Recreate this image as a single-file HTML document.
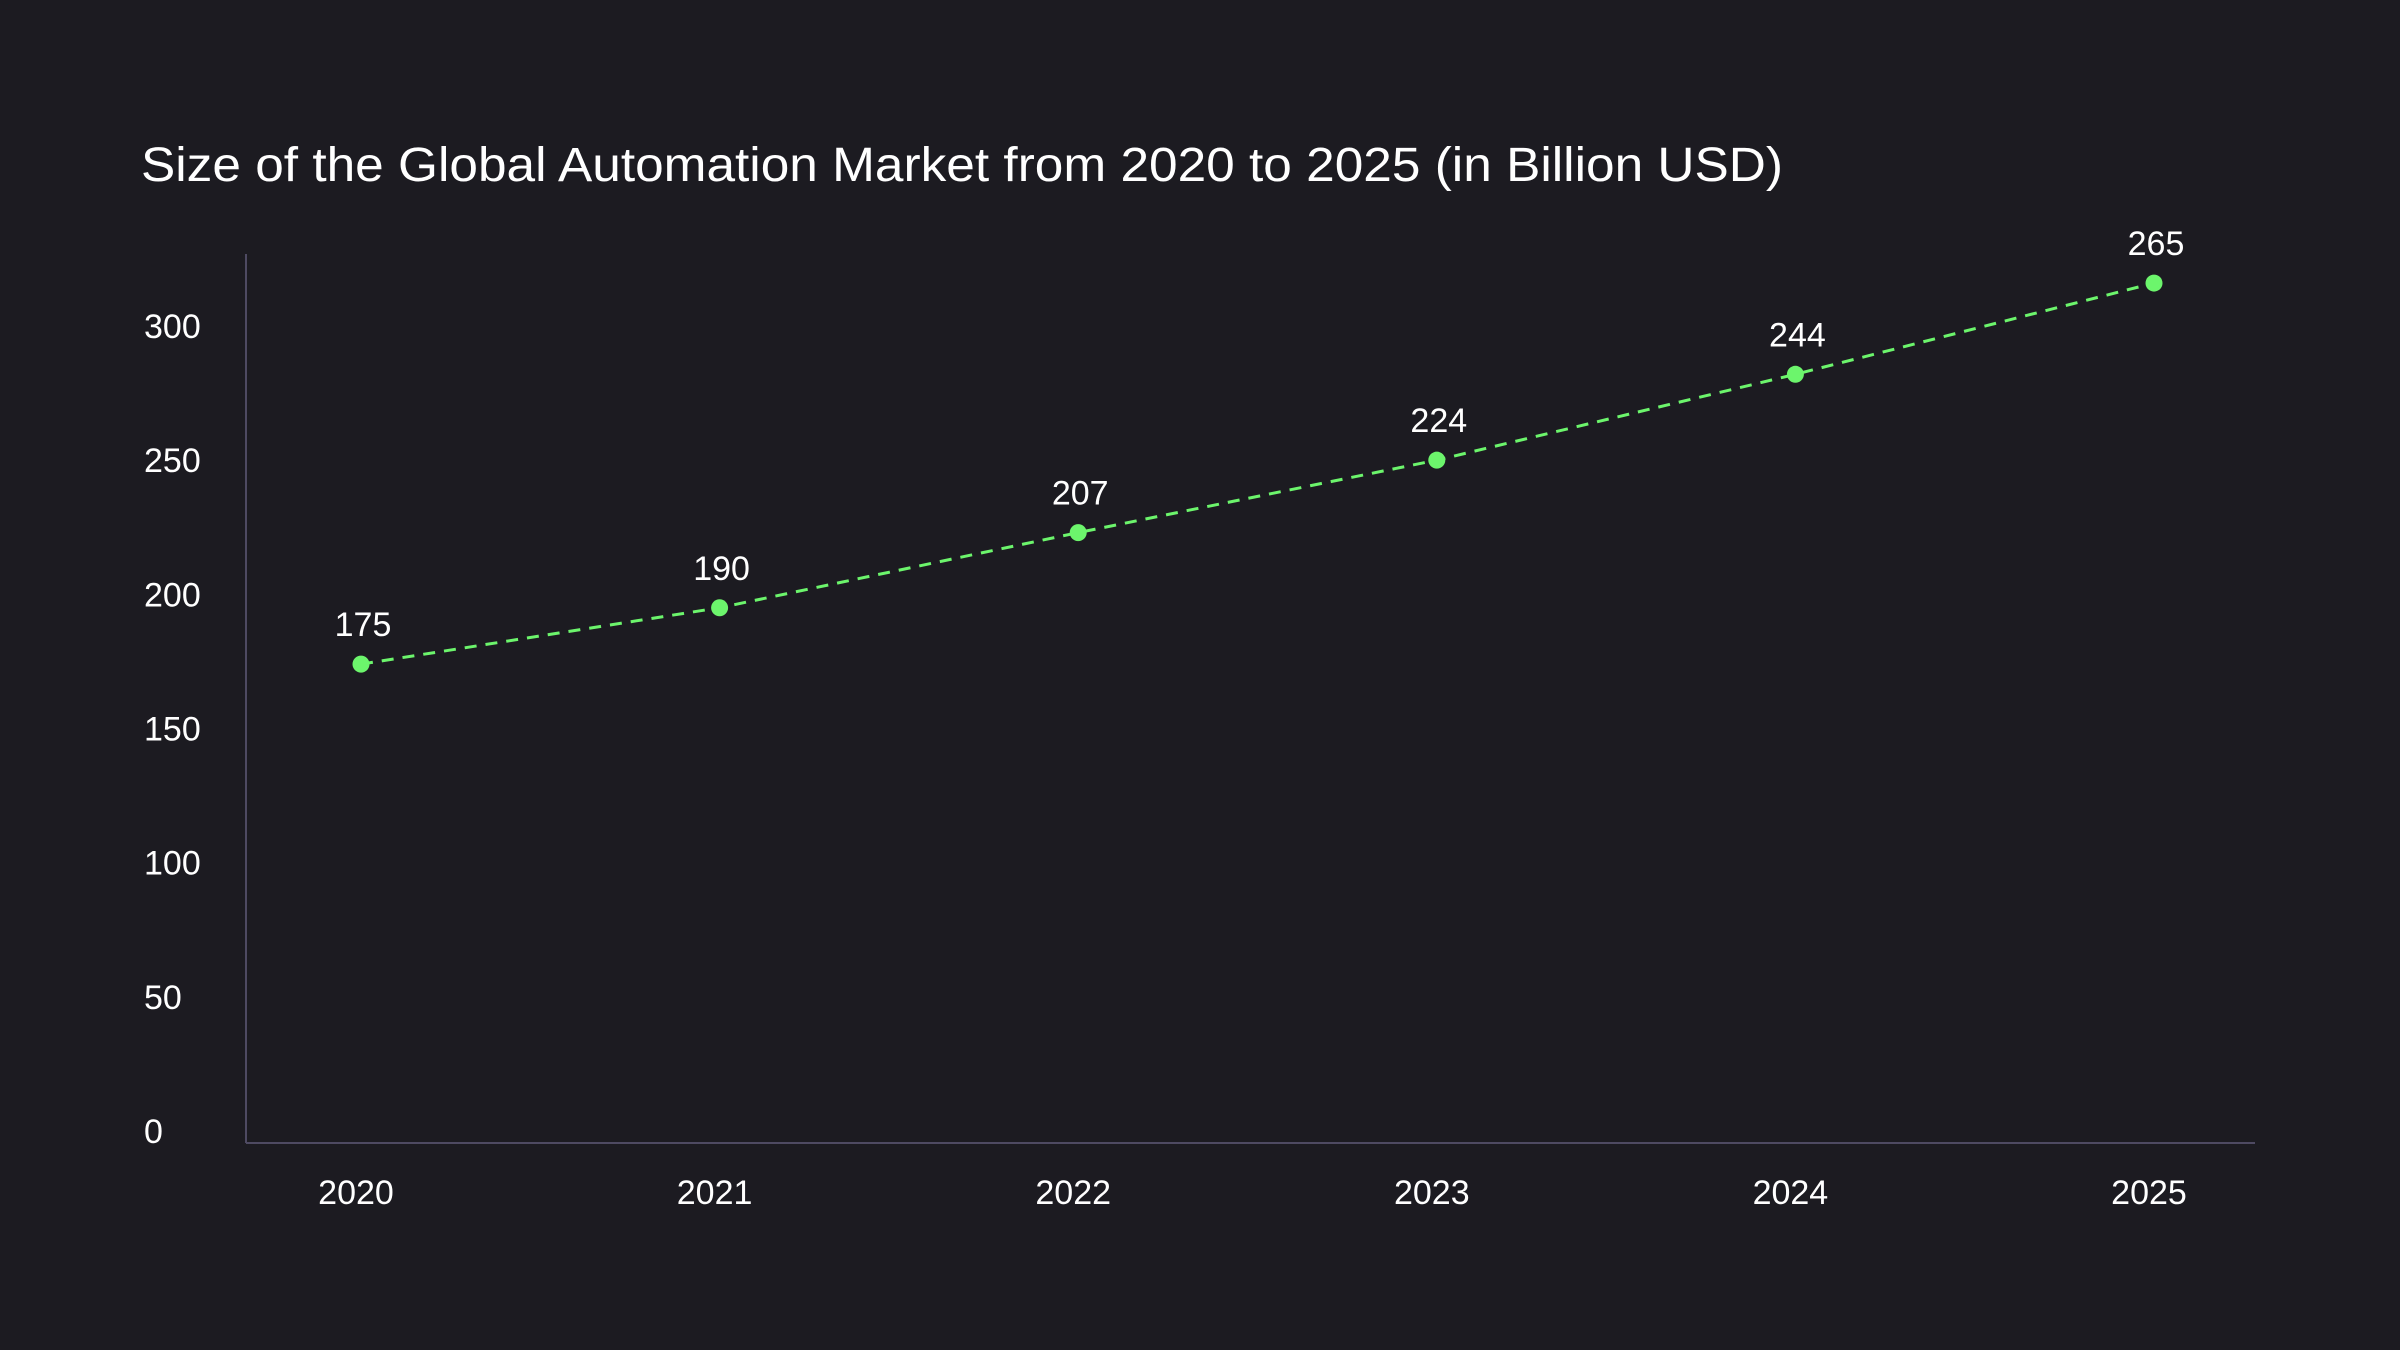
<!DOCTYPE html>
<html><head><meta charset="utf-8"><style>
html,body{margin:0;padding:0;background:#1c1b21;}
svg{display:block;font-family:"Liberation Sans",sans-serif;}
</style></head><body>
<svg id="chart" width="2400" height="1350" viewBox="0 0 2400 1350" xmlns="http://www.w3.org/2000/svg">
<rect width="2400" height="1350" fill="#1c1b21"/>
<text x="141" y="181" fill="#ffffff" font-size="48" textLength="1642" lengthAdjust="spacingAndGlyphs">Size of the Global Automation Market from 2020 to 2025 (in Billion USD)</text>
<line x1="246" y1="254" x2="246" y2="1143" stroke="#4e4a62" stroke-width="2"/>
<line x1="246" y1="1143" x2="2255" y2="1143" stroke="#4e4a62" stroke-width="2"/>
<g id="yticks"></g><g id="xticks"></g>
<path id="series-line" fill="none" stroke="#6cf56c" stroke-width="3" stroke-dasharray="12,9"/>
<g id="points"></g>
</svg>
<script>
const categories = ["2020","2021","2022","2023","2024","2025"];
const values = [174, 195, 223, 250, 282, 316];
const valueLabels = ["175","190","207","224","244","265"];
const yTicks = [0,50,100,150,200,250,300];

const NS = "http://www.w3.org/2000/svg";
function xScale(i){ return 361 + i * 358.6; }
function yScale(v){ return 1131 - v * (805 / 300); }

const yg = document.getElementById("yticks");
yTicks.forEach(t => {
  const el = document.createElementNS(NS, "text");
  
  
  el.setAttribute("x", 144);
  el.setAttribute("y", yScale(t) + 12);
  el.setAttribute("fill", "#ffffff");
  el.setAttribute("font-size", "34");
  el.textContent = String(t);
  yg.appendChild(el);
});

const xg = document.getElementById("xticks");
categories.forEach((c, i) => {
  const el = document.createElementNS(NS, "text");
  
  
  el.setAttribute("x", xScale(i) - 5);
  el.setAttribute("y", 1204);
  el.setAttribute("fill", "#ffffff");
  el.setAttribute("font-size", "34");
  el.setAttribute("text-anchor", "middle");
  el.textContent = c;
  xg.appendChild(el);
});

let d = "";
values.forEach((v, i) => { d += (i ? "L" : "M") + xScale(i) + "," + yScale(v); });
document.getElementById("series-line").setAttribute("d", d);

const pg = document.getElementById("points");
values.forEach((v, i) => {
  const c = document.createElementNS(NS, "circle");
  
  
  c.setAttribute("cx", xScale(i));
  c.setAttribute("cy", yScale(v));
  c.setAttribute("r", 8.5);
  c.setAttribute("fill", "#6cf56c");
  pg.appendChild(c);
  const t = document.createElementNS(NS, "text");
  
  
  t.setAttribute("x", xScale(i) + 2);
  t.setAttribute("y", yScale(v) - 28);
  t.setAttribute("fill", "#ffffff");
  t.setAttribute("font-size", "34");
  t.setAttribute("text-anchor", "middle");
  t.textContent = valueLabels[i];
  pg.appendChild(t);
});
</script>
</body></html>
